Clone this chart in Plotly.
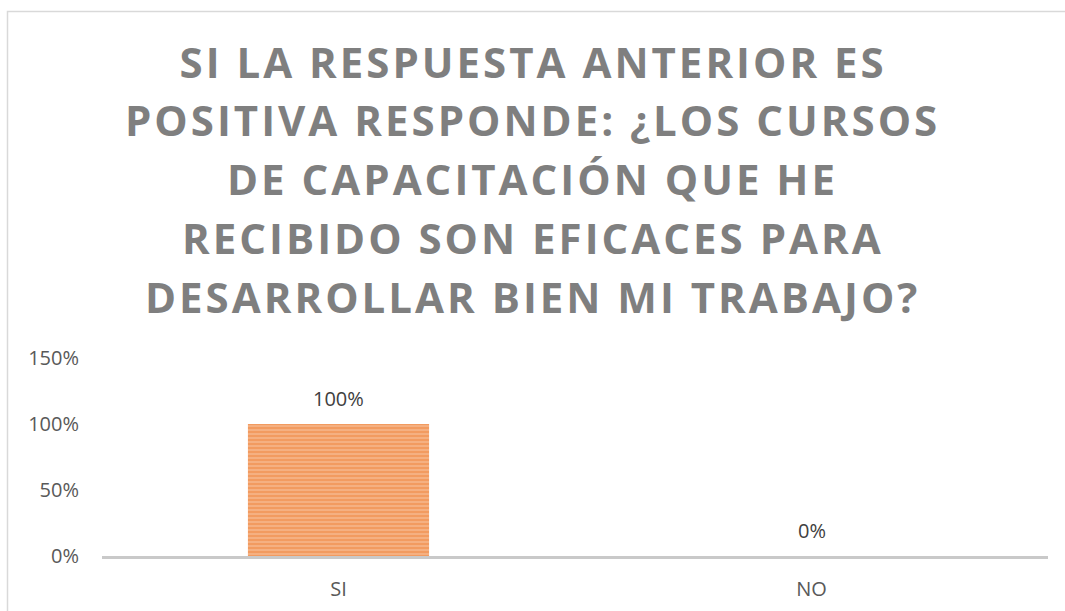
import plotly.graph_objects as go

# Survey answers and their shares
categories = ["SI", "NO"]
shares = [1.00, 0.00]
tick_values = [0, 0.5, 1.0, 1.5]
tick_labels = ["0%", "50%", "100%", "150%"]

title_lines = [
    "SI LA RESPUESTA ANTERIOR ES",
    "POSITIVA RESPONDE: ¿LOS CURSOS",
    "DE CAPACITACIÓN QUE HE",
    "RECIBIDO SON EFICACES PARA",
    "DESARROLLAR BIEN MI TRABAJO?",
]

W, H = 1065, 611
L, R, T, B = 102, 17, 358, 55
pw = W - L - R
ph = H - T - B


def px_x(p):
    return (p - L) / pw


def px_y(p):
    return (H - B - p) / ph


fig = go.Figure()
fig.add_trace(go.Bar(
    x=categories,
    y=shares,
    marker=dict(
        color="#F6B88E",
        line=dict(width=0),
        pattern=dict(shape="-", fgcolor="#ED7D31", size=4, solidity=0.65),
    ),
    width=0.383,
    hoverinfo="x+y",
))

# value labels above each bar
for cat, v in zip(categories, shares):
    fig.add_annotation(
        x=cat, y=v, xref="x", yref="y",
        text=f"{v:.0%}", showarrow=False,
        yanchor="middle", yshift=26,
        font=dict(family="Open Sans", size=20, color="#404040"),
    )

# outer chart frame
fig.add_shape(type="rect", xref="paper", yref="paper",
              x0=px_x(7.5), x1=px_x(1075), y0=px_y(11.5), y1=px_y(625),
              line=dict(color="#D9D9D9", width=1.5), layer="below")

# title, one annotation per line
first_baseline = 77
line_step = 58.75
for i, line in enumerate(title_lines):
    baseline = first_baseline + i * line_step
    fig.add_annotation(
        text=line, xref="paper", yref="paper",
        x=px_x(W / 2), y=px_y(baseline - 16),
        xanchor="center", yanchor="middle", showarrow=False,
        font=dict(family="Open Sans", size=42, color="#7F7F7F", weight="bold"),
        name="title-line",
    )

fig.update_layout(
    width=W, height=H,
    margin=dict(l=L, r=R, t=T, b=B, autoexpand=False),
    paper_bgcolor="white", plot_bgcolor="white",
    showlegend=False,
    bargap=0.617,
    font=dict(family="Open Sans", size=20, color="#595959"),
)
fig.update_xaxes(showline=True, linecolor="#C9C9C9", linewidth=2.5,
                 showgrid=False, ticks="", ticklabelstandoff=13,
                 automargin=False,
                 tickfont=dict(size=20, color="#595959"))
fig.update_yaxes(range=[0, 1.5], tickvals=tick_values, ticktext=tick_labels,
                 showgrid=False, zeroline=False, showline=False, ticks="",
                 ticklabelstandoff=22, automargin=False,
                 tickfont=dict(size=20, color="#595959"))

# widen the tracking of the bold title lines
letter_spacing_js = """
var gd = document.getElementById('{plot_id}');
gd.querySelectorAll('.annotation-text').forEach(function (t) {
    if (parseFloat(t.style.fontSize) >= 40) {
        t.style.letterSpacing = '3px';
    }
});
"""

fig.write_html("out.html", post_script=letter_spacing_js)
